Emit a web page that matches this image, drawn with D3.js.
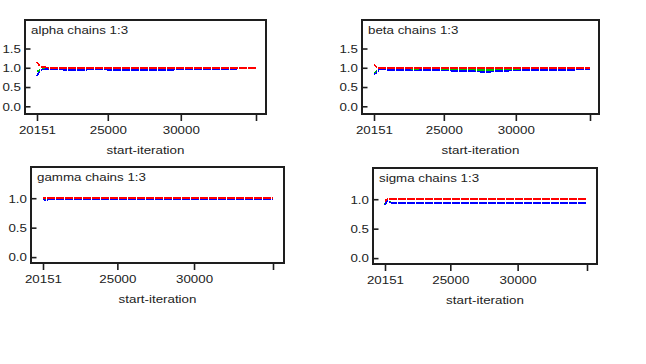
<!DOCTYPE html>
<html>
<head>
<meta charset="utf-8">
<script src="https://cdn.jsdelivr.net/npm/d3@7"></script>
<style>
body{margin:0;background:#fff}
svg{display:block}
text{font-family:"Liberation Sans",Arial,sans-serif;fill:#222}
</style>
</head>
<body>
<div id="chart"></div>
<script>
// iterations at which the BGR statistics were computed
const iterations = [20151,20300,20500,20750,21000,21500,22000,23000,24000,25000,26000,27000,28000,29000,30000,31000,32000,33000,34000,35000,35150];
const xTicks = [20151,25000,30000,35150];
const xTickLabels = ["20151","25000","30000",""];

// green = pooled width, blue = within width, red = ratio
const alphaPooled = [0.90,0.93,0.96,0.97,0.97,0.96,0.96,0.95,0.96,0.96,0.95,0.95,0.95,0.95,0.96,0.96,0.96,0.96,0.98,0.98,0.98];
const alphaWithin = [0.79,0.88,0.95,0.96,0.96,0.96,0.95,0.94,0.96,0.95,0.94,0.94,0.94,0.94,0.96,0.96,0.96,0.96,0.98,0.98,0.98];
const alphaRatio  = [1.15,1.07,1.02,1.01,1.00,1.00,1.00,1.00,1.00,1.00,1.00,1.00,1.00,1.00,1.00,1.00,1.00,1.00,1.00,1.00,1.00];

const betaPooled = [0.86,0.90,0.96,0.98,0.97,0.96,0.96,0.96,0.97,0.95,0.96,0.95,0.94,0.95,0.96,0.96,0.96,0.96,0.97,0.98,0.98];
const betaWithin = [0.83,0.86,0.95,0.96,0.95,0.94,0.94,0.93,0.94,0.93,0.92,0.91,0.89,0.92,0.93,0.94,0.94,0.94,0.95,0.96,0.96];
const betaRatio  = [1.08,1.03,0.99,1.00,1.00,1.00,0.99,1.00,1.00,1.00,0.99,1.00,0.99,1.00,1.00,1.00,1.00,1.00,1.00,1.00,1.00];

const gammaPooled = [0.99,0.98,0.99,0.99,0.99,0.99,0.99,0.99,0.99,0.99,0.99,0.99,0.99,0.99,0.99,0.99,0.99,0.99,0.99,0.99,0.99];
const gammaWithin = [0.99,0.96,0.98,0.98,0.98,0.98,0.98,0.98,0.98,0.98,0.98,0.98,0.98,0.98,0.98,0.98,0.98,0.98,0.98,0.98,0.98];
const gammaRatio  = [1.00,1.00,1.00,1.00,1.00,1.00,1.00,1.00,1.00,1.00,1.00,1.00,1.00,1.00,1.00,1.00,1.00,1.00,1.00,1.00,1.00];

const sigmaPooled = [0.92,0.97,0.95,0.94,0.93,0.93,0.93,0.93,0.94,0.93,0.93,0.93,0.93,0.93,0.93,0.93,0.93,0.93,0.93,0.93,0.93];
const sigmaWithin = [0.90,0.97,0.95,0.93,0.93,0.93,0.93,0.93,0.94,0.93,0.93,0.93,0.93,0.93,0.93,0.93,0.93,0.93,0.93,0.93,0.93];
const sigmaRatio  = [0.97,1.00,1.00,1.00,1.00,1.00,1.00,1.00,1.00,1.00,1.00,1.00,1.00,1.00,1.00,1.00,1.00,1.00,1.00,1.00,1.00];

const yTicksTall = [0,0.5,1,1.5];
const yTicksShort = [0,0.5,1];

// panel layout (pixels)
const panels = [
  {title:"alpha chains 1:3", series:[alphaPooled,alphaWithin,alphaRatio], yTicks:yTicksTall, yDomain:[-0.2,2.24],
   box:{l:25,r:266,t:20,b:114}, x0:37, x1:256},
  {title:"beta chains 1:3", series:[betaPooled,betaWithin,betaRatio], yTicks:yTicksTall, yDomain:[-0.2,2.24],
   box:{l:362,r:599,t:20,b:114}, x0:374, x1:590},
  {title:"gamma chains 1:3", series:[gammaPooled,gammaWithin,gammaRatio], yTicks:yTicksShort, yDomain:[-0.1,1.53],
   box:{l:31,r:284,t:167,b:263}, x0:43, x1:273},
  {title:"sigma chains 1:3", series:[sigmaPooled,sigmaWithin,sigmaRatio], yTicks:yTicksShort, yDomain:[-0.1,1.53],
   box:{l:373,r:597,t:168,b:264}, x0:385, x1:587}
];
const colors = ["#00c000","#0000ff","#ff0000"];
const sx = 1.27; // glyphs in the original are stretched horizontally

const svg = d3.select("#chart").append("svg")
  .attr("width",646).attr("height",364);
svg.append("rect").attr("width",646).attr("height",364).attr("fill","#fff");
const defs = svg.append("defs");

panels.forEach(function(p,k){
  const b = p.box;
  const x = d3.scaleLinear().domain([xTicks[0],xTicks[xTicks.length-1]]).range([p.x0,p.x1]);
  const y = d3.scaleLinear().domain(p.yDomain).range([b.b,b.t]);
  const g = svg.append("g");

  // thin white vertical gaps shared by all three lines
  defs.append("pattern").attr("id","gap"+k)
    .attr("patternUnits","userSpaceOnUse").attr("x",p.x0+4).attr("y",0)
    .attr("width",9).attr("height",10)
    .append("rect").attr("width",8).attr("height",10).attr("fill","#fff")
    .attr("shape-rendering","crispEdges");
  defs.append("mask").attr("id","mask"+k)
    .attr("maskUnits","userSpaceOnUse")
    .attr("x",0).attr("y",0).attr("width",646).attr("height",364)
    .append("rect").attr("x",0).attr("y",0).attr("width",646).attr("height",364)
    .attr("fill","url(#gap"+k+")");

  const lines = g.append("g").attr("mask","url(#mask"+k+")");
  p.series.forEach(function(vals,i){
    const line = d3.line()
      .x(function(d,j){ return x(iterations[j]); })
      .y(function(d){ return y(d); });
    lines.append("path")
      .datum(vals)
      .attr("d",line)
      .attr("fill","none")
      .attr("stroke",colors[i])
      .attr("stroke-width",1.7)
      .attr("shape-rendering","crispEdges");
  });

  // box
  g.append("rect")
    .attr("x",b.l).attr("y",b.t)
    .attr("width",b.r-b.l).attr("height",b.b-b.t)
    .attr("fill","none").attr("stroke","#1e1e1e").attr("stroke-width",2);

  // y axis, ticks point inside
  const yAxis = d3.axisLeft(y).tickValues(p.yTicks).tickFormat(d3.format(".1f")).tickSize(-5.5).tickPadding(0);
  const ya = g.append("g").attr("transform","translate("+b.l+",0)").call(yAxis);
  ya.select(".domain").remove();
  ya.selectAll(".tick line").attr("stroke","#1e1e1e").attr("stroke-width",1.6);
  ya.selectAll(".tick text")
    .attr("x",0).attr("dy","0.36em")
    .attr("transform","translate(-4,0) scale("+sx+",1)")
    .style("font-size","10.5px").attr("fill","#222");

  // x axis, ticks below the box
  const xAxis = d3.axisBottom(x).tickValues(xTicks)
    .tickFormat(function(d,i){ return xTickLabels[i]; })
    .tickSize(7).tickPadding(0);
  const xa = g.append("g").attr("transform","translate(0,"+b.b+")").call(xAxis);
  xa.select(".domain").remove();
  xa.selectAll(".tick line").attr("stroke","#1e1e1e").attr("stroke-width",1.6);
  xa.selectAll(".tick text")
    .attr("y",20).attr("dy",null)
    .attr("transform","scale("+sx+",1)")
    .style("font-size","10.5px").attr("fill","#222");

  // panel title
  g.append("text")
    .attr("transform","translate("+(b.l+6)+","+(b.t+13.5)+") scale("+sx+",1)")
    .style("font-size","10.5px")
    .text(p.title);

  // x axis title
  g.append("text")
    .attr("transform","translate("+((b.l+b.r)/2)+","+(b.b+40)+") scale("+sx+",1)")
    .attr("text-anchor","middle")
    .style("font-size","10.5px")
    .text("start-iteration");
});
</script>
</body>
</html>
